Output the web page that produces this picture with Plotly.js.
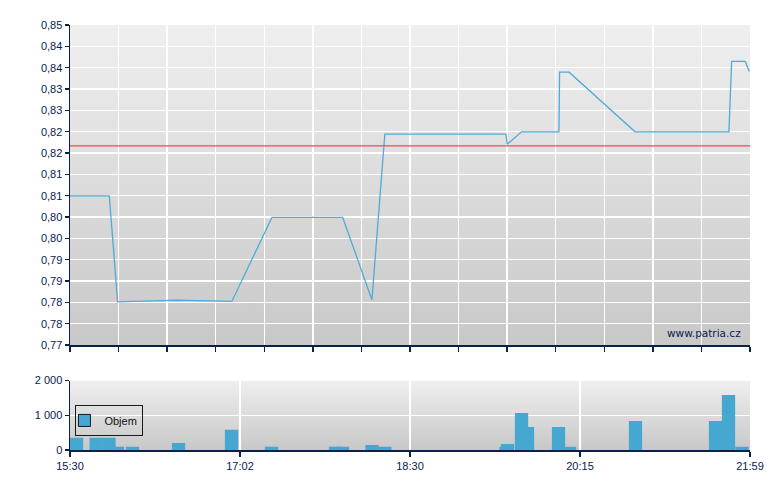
<!DOCTYPE html>
<html>
<head>
<meta charset="utf-8">
<script src="https://cdn.plot.ly/plotly-3.0.1.min.js"></script>
<style>
  html, body { margin: 0; padding: 0; background: #fff; }
  #plot { width: 780px; height: 490px; }
</style>
</head>
<body>
<div id="plot"></div>
<script>
// price line (x = position on the session axis, 0..100)
var priceX = [0, 5.78, 7.0, 15.7, 23.8, 29.7, 40.1, 44.4, 46.3, 64.1, 64.3, 66.4, 71.9, 72.0, 73.4, 83.1, 96.9, 97.3, 99.3, 99.9];
var priceY = [0.8073, 0.8073, 0.7808, 0.7812, 0.7809, 0.8019, 0.8019, 0.7813, 0.8227, 0.8227, 0.8202, 0.8233, 0.8233, 0.8382, 0.8382, 0.8233, 0.8233, 0.8409, 0.8409, 0.8384];

// previous close (red line)
var prevClose = 0.8198;

// volume bars
var volX = [0.96, 3.85, 5.74, 6.99, 9.19, 15.96, 23.75, 29.63, 39.04, 40.07, 44.41, 46.3, 64.12, 64.34, 66.40, 67.28, 71.84, 73.46, 83.16, 94.93, 96.84, 98.82];
var volY = [355, 355, 355, 90, 90, 200, 585, 90, 90, 90, 145, 90, 90, 175, 1065, 660, 660, 90, 835, 835, 1580, 90];

// tick labels
var priceTickText = ['0,77', '0,78', '0,78', '0,79', '0,79', '0,80', '0,80', '0,81', '0,81', '0,82', '0,82', '0,83', '0,83', '0,84', '0,84', '0,85'];
var timeTickText = ['15:30', '17:02', '18:30', '20:15', '21:59'];
var volTickText = ['0', '1 000', '2 000'];

var navy = '#0a2150';
var blue = '#46a7d1';

var priceTickVals = priceTickText.map(function (t, i) { return 0.77 + i * 0.08 / 15; });
var topXTicks = [];
for (var i = 0; i <= 14; i++) topXTicks.push(i * 100 / 14);
var timeTickVals = timeTickText.map(function (t, i) { return i * 25; });

var gradSvg = '<svg xmlns="http://www.w3.org/2000/svg" width="10" height="100" preserveAspectRatio="none">' +
  '<defs><linearGradient id="g" x1="0" y1="0" x2="0" y2="1">' +
  '<stop offset="0" stop-color="#efefef"/><stop offset="1" stop-color="#c8c8c8"/>' +
  '</linearGradient></defs><rect width="10" height="100" fill="url(#g)"/></svg>';
var gradUrl = 'data:image/svg+xml;charset=utf-8,' + encodeURIComponent(gradSvg);

var price = {
  x: priceX, y: priceY,
  type: 'scatter', mode: 'lines',
  line: { color: '#4fabd6', width: 1.3 },
  showlegend: false, hoverinfo: 'skip',
  xaxis: 'x', yaxis: 'y'
};

var vol = {
  x: volX, y: volY,
  type: 'bar', width: 1.95,
  marker: { color: blue, line: { width: 0 } },
  showlegend: false, hoverinfo: 'skip',
  xaxis: 'x2', yaxis: 'y2'
};

// legend entry only
var volLegend = {
  x: [null], y: [null],
  type: 'bar', name: 'Objem',
  marker: { color: blue, line: { color: '#1a1a1a', width: 1 } },
  xaxis: 'x2', yaxis: 'y2'
};

var axisBase = {
  showline: true, linecolor: navy, linewidth: 1.5,
  ticks: 'outside', tickcolor: navy, ticklen: 5, tickwidth: 1.5,
  gridcolor: '#ffffff', gridwidth: 1.5,
  zeroline: false, fixedrange: true,
  tickfont: { family: 'Liberation Sans, Arial, sans-serif', size: 11, color: navy }
};

var layout = {
  width: 780, height: 490,
  margin: { l: 70, r: 30, t: 25, b: 40 },
  paper_bgcolor: '#ffffff',
  plot_bgcolor: 'rgba(0,0,0,0)',
  barmode: 'overlay',
  showlegend: true,
  legend: {
    x: 0.008, y: 0.106, xanchor: 'left', yanchor: 'top',
    indentation: -12,
    bgcolor: 'rgba(0,0,0,0)', bordercolor: '#1a1a1a', borderwidth: 1,
    font: { family: 'Liberation Sans, Arial, sans-serif', size: 11, color: '#111' }
  },
  xaxis: Object.assign({}, axisBase, {
    domain: [0, 1], range: [0, 100], anchor: 'y',
    tickmode: 'array', tickvals: topXTicks, showticklabels: false
  }),
  yaxis: Object.assign({}, axisBase, {
    domain: [0.247, 1], range: [0.77, 0.85], anchor: 'x',
    tickmode: 'array', tickvals: priceTickVals, ticktext: priceTickText, ticklen: 4
  }),
  xaxis2: Object.assign({}, axisBase, {
    domain: [0, 1], range: [0, 100], anchor: 'y2',
    tickmode: 'array', tickvals: timeTickVals, ticktext: timeTickText
  }),
  yaxis2: Object.assign({}, axisBase, {
    domain: [0, 0.1635], range: [0, 2000], anchor: 'x2',
    tickmode: 'array', tickvals: [0, 1000, 2000], ticktext: volTickText, ticklen: 4
  }),
  images: [
    { source: gradUrl, xref: 'paper', yref: 'paper', x: 0, y: 1, sizex: 1, sizey: 0.753,
      xanchor: 'left', yanchor: 'top', sizing: 'stretch', layer: 'below' },
    { source: gradUrl, xref: 'paper', yref: 'paper', x: 0, y: 0.1635, sizex: 1, sizey: 0.1635,
      xanchor: 'left', yanchor: 'top', sizing: 'stretch', layer: 'below' }
  ],
  shapes: [
    { type: 'line', xref: 'x domain', yref: 'y', x0: 0, x1: 1, y0: prevClose, y1: prevClose,
      line: { color: '#e5514e', width: 1.2 } }
  ],
  annotations: [
    { text: 'www.patria.cz', xref: 'paper', yref: 'paper', x: 0.99, y: 0.275,
      xanchor: 'right', yanchor: 'middle', showarrow: false,
      font: { family: 'DejaVu Sans, Verdana, sans-serif', size: 10.5, color: navy } }
  ]
};

Plotly.newPlot('plot', [price, vol, volLegend], layout, { staticPlot: true, displayModeBar: false });
</script>
</body>
</html>
